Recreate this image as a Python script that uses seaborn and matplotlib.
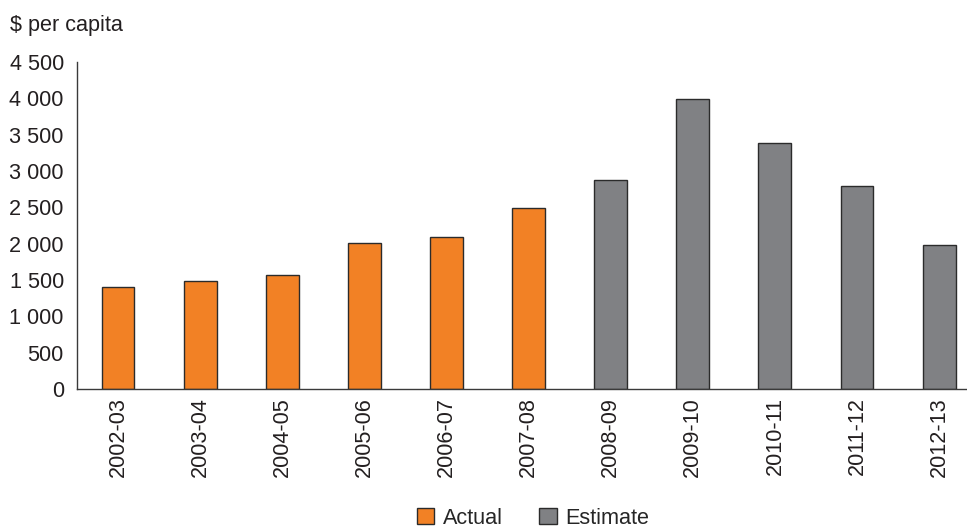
import matplotlib
matplotlib.use("Agg")
import matplotlib.pyplot as plt
import seaborn as sns
import pandas as pd
from matplotlib.patches import Patch

years = ["2002-03", "2003-04", "2004-05", "2005-06", "2006-07", "2007-08",
         "2008-09", "2009-10", "2010-11", "2011-12", "2012-13"]
values = [1410, 1480, 1570, 2010, 2090, 2490, 2870, 3990, 3380, 2790, 1980]
kinds = ["Actual"] * 6 + ["Estimate"] * 5
yticks = [0, 500, 1000, 1500, 2000, 2500, 3000, 3500, 4000, 4500]
ytick_labels = ["0", "500", "1 000", "1 500", "2 000", "2 500", "3 000", "3 500", "4 000", "4 500"]

colors = {"Actual": "#F28125", "Estimate": "#808184"}

df = pd.DataFrame({"year": years, "value": values, "kind": kinds})

sns.set_theme(style="white")
plt.rcParams["font.family"] = ["Liberation Sans", "DejaVu Sans"]
FS = 15.6

fig = plt.figure(figsize=(9.67, 5.28), dpi=100)
ax = fig.add_axes([77 / 967, 139 / 528, 890 / 967, 327 / 528])

sns.barplot(data=df, x="year", y="value", hue="kind", palette=colors,
            dodge=False, width=0.4, saturation=1, edgecolor="#2b2b2b",
            linewidth=1.0, legend=False, ax=ax)

ax.set_xlim(-0.5, 10.34)
ax.set_ylim(0, 4500)
ax.set_yticks(yticks)
ax.set_yticklabels(ytick_labels, fontsize=FS, color="#231f20")
ax.set_xticks(range(len(years)))
ax.set_xticklabels(years, rotation=90, fontsize=FS, color="#231f20")
ax.tick_params(axis="y", length=0, pad=9.5)
ax.tick_params(axis="x", length=0, pad=6)
ax.set_xlabel("")
ax.set_ylabel("")
for s in ["top", "right"]:
    ax.spines[s].set_visible(False)
for s in ["left", "bottom"]:
    ax.spines[s].set_color("#3a3a3a")
    ax.spines[s].set_linewidth(1.0)

fig.text(10 / 967, 1 - 25 / 528, "$ per capita", fontsize=FS, color="#231f20",
         va="center", ha="left")

handles = [Patch(facecolor=colors[k], edgecolor="#2b2b2b", linewidth=1.0, label=k)
           for k in ["Actual", "Estimate"]]
fig.legend(handles=handles, loc="center", bbox_to_anchor=(533 / 967, 1 - 518 / 528),
           ncol=2, frameon=False, fontsize=FS, handlelength=0.8, handleheight=0.8,
           handletextpad=0.4, columnspacing=1.7, borderaxespad=0)

fig.savefig("out.png", dpi=100)
